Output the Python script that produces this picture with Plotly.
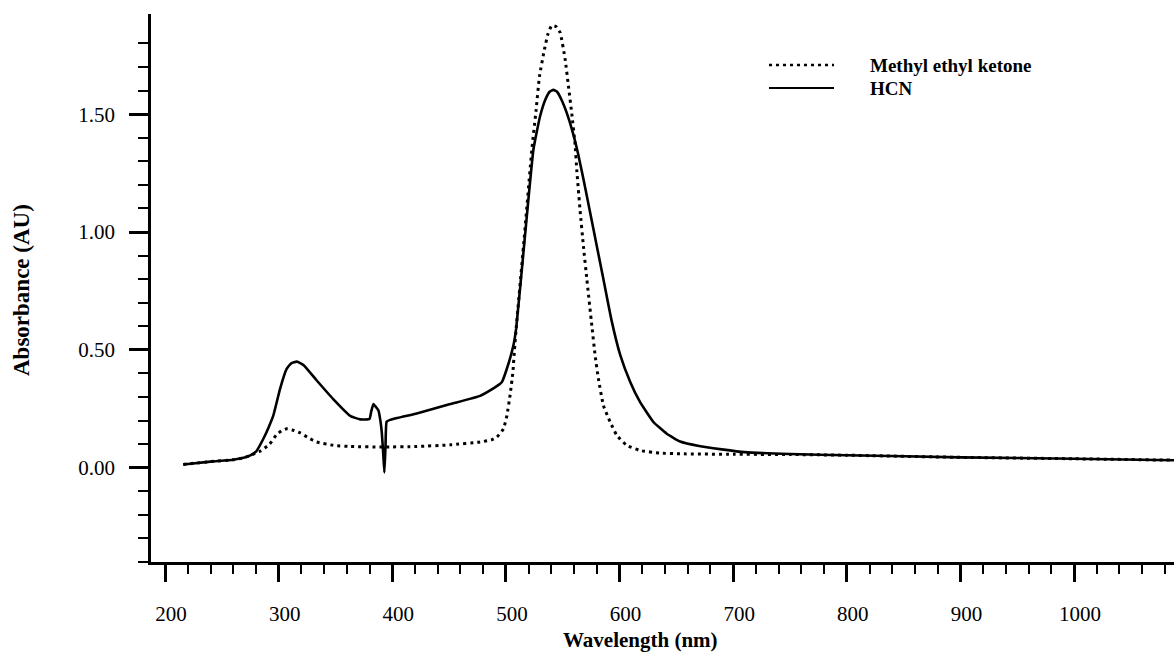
import plotly.graph_objects as go

# ---------------- data ----------------
wl_hcn = [216, 240, 260, 270, 275, 280, 286.5, 291, 295.3, 301.2, 307.1, 311, 316, 322, 333.5,
          348.2, 362.9, 371.7, 379.9, 381.5, 383.4, 385.5, 387.8, 389.5, 390.7, 392, 393, 394,
          395, 398, 421.5, 451, 477.3, 490, 494.9, 496.4, 500.8, 506.6, 509, 516.5, 524.2,
          530, 535, 538.5, 541.8, 545, 549, 553.9, 559, 563.6, 568.2, 574.1, 580, 585.8, 593.2,
          600.5, 609.3, 618.1, 629.8, 641.6, 653.3, 670, 690, 710, 750, 800, 900, 1000, 1088]
abs_hcn = [0.014, 0.026, 0.034, 0.043, 0.052, 0.068, 0.123, 0.17, 0.222, 0.335, 0.42, 0.443, 0.45,
           0.435, 0.37, 0.29, 0.22, 0.205, 0.207, 0.24, 0.27, 0.258, 0.243, 0.2, 0.152, 0.06,
           -0.02, 0.09, 0.195, 0.203, 0.23, 0.27, 0.305, 0.34, 0.356, 0.363, 0.42, 0.52, 0.59,
           0.97, 1.35, 1.49, 1.565, 1.595, 1.603, 1.595, 1.56, 1.50, 1.42, 1.33, 1.225, 1.083,
           0.94, 0.80, 0.62, 0.48, 0.365, 0.278, 0.194, 0.144, 0.111, 0.092, 0.078, 0.066,
           0.058, 0.053, 0.044, 0.038, 0.032]

wl_mek = [216, 240, 260, 270, 275, 283.6, 292, 298, 303, 307, 312, 319, 326, 333.5, 348, 363,
          392, 421.5, 451, 477.3, 487, 492, 497.8, 500.8, 503.7, 506.1, 507.5, 509, 516, 522.8,
          526.6, 529.5, 533.9, 537, 540.4, 544, 547.7, 552.1, 555, 558, 560.9, 562.4, 565.3,
          568.2, 571.2, 575.6, 578.5, 581.4, 585.8, 591.7, 597.6, 606.4, 618.1, 635.7, 653.3,
          700, 750, 800, 900, 1000, 1088]
abs_mek = [0.014, 0.026, 0.034, 0.043, 0.052, 0.07, 0.10, 0.14, 0.158, 0.165, 0.16, 0.148, 0.127,
           0.109, 0.095, 0.09, 0.088, 0.09, 0.097, 0.109, 0.118, 0.13, 0.165, 0.22, 0.31, 0.405,
           0.50, 0.59, 0.97, 1.35, 1.52, 1.66, 1.775, 1.84, 1.877, 1.872, 1.846, 1.733, 1.62,
           1.50, 1.37, 1.26, 1.09, 0.94, 0.80, 0.603, 0.476, 0.377, 0.264, 0.194, 0.137,
           0.095, 0.073, 0.062, 0.059, 0.057, 0.056, 0.053, 0.044, 0.038, 0.032]

series_names = ["Methyl ethyl ketone", "HCN"]
x_title = "Wavelength (nm)"
y_title = "Absorbance (AU)"
y_minor_ticks = [-0.4, -0.3, -0.2, -0.1, 0.1, 0.2, 0.3, 0.4, 0.6, 0.7, 0.8, 0.9,
                 1.1, 1.2, 1.3, 1.4, 1.6, 1.7, 1.8]

# ---------------- layout geometry (pixels) ----------------
W, H = 1174, 668
L, R, T, B = 151, 0, 14, 106
PW, PH = W - L - R, H - T - B


def px_x(px):
    return (px - L) / PW


def px_y(py):
    return (H - B - py) / PH


FONT = "Liberation Serif"
DOT = "3px,4px"

fig = go.Figure()
fig.add_trace(go.Scatter(x=wl_mek, y=abs_mek, mode="lines", name=series_names[0],
                         line=dict(color="black", width=3, dash=DOT, shape="spline", smoothing=0.4)))
fig.add_trace(go.Scatter(x=wl_hcn, y=abs_hcn, mode="lines", name=series_names[1],
                         line=dict(color="black", width=2.6, shape="spline", smoothing=0.4)))

fig.update_layout(
    width=W, height=H,
    margin=dict(l=L, r=R, t=T, b=B, pad=0),
    plot_bgcolor="white", paper_bgcolor="white",
    showlegend=False,
    font=dict(family=FONT, color="black", size=21),
)

fig.update_xaxes(
    range=[187.6, 1088], tickmode="linear", tick0=200, dtick=100,
    ticks="outside", ticklen=17, tickwidth=2.5, tickcolor="black",
    showline=True, linewidth=2.5, linecolor="black",
    showgrid=False, zeroline=False,
    ticklabelstandoff=14, ticklabelshift=6,
    tickfont=dict(family=FONT, size=21, color="black"),
    minor=dict(tick0=200, dtick=20, ticks="outside", ticklen=9, tickwidth=2, tickcolor="black", showgrid=False),
)
fig.update_yaxes(
    range=[-0.4, 1.925], tickmode="linear", tick0=0, dtick=0.5, tickformat=".2f",
    ticks="outside", ticklen=19, tickwidth=2.5, tickcolor="black",
    showline=True, linewidth=2.5, linecolor="black",
    showgrid=False, zeroline=False,
    ticklabelstandoff=10,
    tickfont=dict(family=FONT, size=21, color="black"),
    minor=dict(tickmode="array", tickvals=y_minor_ticks, ticks="outside", ticklen=10, tickwidth=2,
               tickcolor="black", showgrid=False),
)

# axis titles
fig.add_annotation(text="<b>" + x_title + "</b>", xref="paper", yref="paper",
                   x=px_x(640), y=px_y(640), showarrow=False, xanchor="center", yanchor="middle",
                   font=dict(family=FONT, size=21, color="black"))
fig.add_annotation(text="<b>" + y_title + "</b>", xref="paper", yref="paper",
                   x=px_x(22), y=px_y(290), showarrow=False, xanchor="center", yanchor="middle",
                   textangle=-90, font=dict(family=FONT, size=23, color="black"))

# legend (drawn manually to match the compact original)
legend_rows = [65, 88]
legend_dash = [DOT, "solid"]
for name, row, dash in zip(series_names, legend_rows, legend_dash):
    fig.add_shape(type="line", xref="paper", yref="paper",
                  x0=px_x(769), x1=px_x(834), y0=px_y(row), y1=px_y(row),
                  line=dict(color="black", width=2.2 if dash == "solid" else 2.6, dash=dash))
    fig.add_annotation(text="<b>" + name + "</b>", xref="paper", yref="paper",
                       x=px_x(868), y=px_y(row), showarrow=False, xanchor="left", yanchor="middle",
                       font=dict(family=FONT, size=19, color="black"))

fig.write_html("out.html", config={"displayModeBar": False},
               post_script="document.body.style.margin='0';")
